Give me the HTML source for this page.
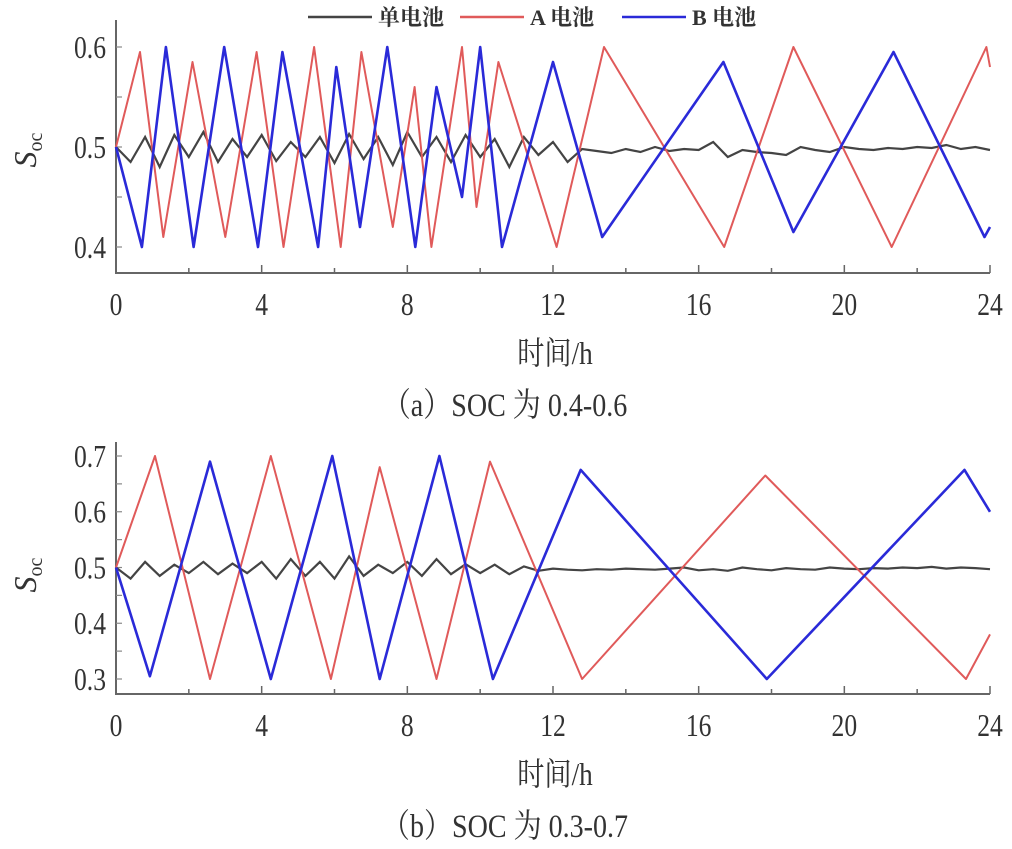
<!DOCTYPE html>
<html><head><meta charset="utf-8"><style>
html,body{margin:0;padding:0;background:#fff;}
svg{display:block;}
text{font-family:"Liberation Serif","Noto Serif CJK SC",serif;fill:#333;}
</style></head><body>
<svg id="chart" width="1012" height="849" viewBox="0 0 1012 849" xmlns="http://www.w3.org/2000/svg"></svg>
<script>
// ---- data ----
const xTicks = [0, 4, 8, 12, 16, 20, 24];
const ticksA = [0.4, 0.5, 0.6];
const ticksB = [0.3, 0.4, 0.5, 0.6, 0.7];
const seriesNames = ["单电池", "A 电池", "B 电池"];
// panel (a)
const aA_t = [0,0.66,1.3,2.1,3.0,3.86,4.6,5.44,6.17,6.74,7.6,8.2,8.66,9.5,9.9,10.5,12.1,13.4,16.7,18.6,21.3,23.9,24];
const aA_v = [0.5,0.595,0.41,0.585,0.41,0.595,0.40,0.6,0.40,0.595,0.42,0.56,0.40,0.6,0.44,0.585,0.40,0.6,0.40,0.6,0.40,0.6,0.58];
const aB_t = [0,0.71,1.37,2.13,2.97,3.9,4.57,5.55,6.05,6.7,7.45,8.22,8.8,9.5,10.0,10.6,12.0,13.35,16.68,18.6,21.35,23.85,24];
const aB_v = [0.5,0.40,0.6,0.40,0.6,0.40,0.595,0.40,0.58,0.42,0.6,0.40,0.56,0.45,0.6,0.40,0.585,0.41,0.585,0.415,0.595,0.41,0.42];
const aS_v = [0.50,0.485,0.51,0.48,0.512,0.49,0.515,0.485,0.508,0.49,0.512,0.486,0.505,0.49,0.51,0.484,0.513,0.488,0.51,0.482,0.515,0.49,0.51,0.485,0.512,0.49,0.508,0.48,0.51,0.492,0.505,0.485,0.498,0.496,0.494,0.498,0.495,0.5,0.496,0.498,0.497,0.505,0.49,0.497,0.495,0.494,0.492,0.5,0.497,0.495,0.5,0.498,0.497,0.499,0.498,0.5,0.499,0.502,0.498,0.5,0.497];
// panel (b)
const bA_t = [0,1.07,2.58,4.25,5.9,7.24,8.8,10.27,12.8,17.83,23.34,24];
const bA_v = [0.5,0.70,0.30,0.70,0.30,0.68,0.30,0.69,0.30,0.665,0.30,0.38];
const bB_t = [0,0.93,2.58,4.25,5.94,7.24,8.88,10.35,12.76,17.87,23.3,24];
const bB_v = [0.5,0.305,0.69,0.30,0.70,0.30,0.70,0.30,0.675,0.30,0.675,0.60];
const bS_v = [0.50,0.48,0.51,0.485,0.505,0.49,0.51,0.488,0.507,0.49,0.51,0.48,0.515,0.485,0.51,0.48,0.52,0.485,0.505,0.49,0.51,0.485,0.515,0.488,0.506,0.49,0.505,0.488,0.502,0.494,0.498,0.496,0.495,0.497,0.496,0.498,0.497,0.496,0.498,0.5,0.495,0.497,0.494,0.5,0.497,0.495,0.499,0.497,0.496,0.5,0.498,0.497,0.499,0.498,0.5,0.499,0.501,0.498,0.5,0.499,0.497];

const svg = document.getElementById('chart');
const NS = 'http://www.w3.org/2000/svg';
function mk(tag, attrs, parent){ const e=document.createElementNS(NS,tag); for(const k in attrs) e.setAttribute(k,attrs[k]); (parent||svg).appendChild(e); return e; }

function panel(cfg){
  const g = mk('g',{});
  
  
  const x0=116, x1=990;
  const sx = t => x0 + (t/24)*(x1-x0);
  const sy = v => cfg.yTop + (cfg.vTop - v)/(cfg.vTop-cfg.vBot)*(cfg.yBot-cfg.yTop);
  const ax = mk('path',{d:`M${x0} ${cfg.axTop} V${cfg.axY} H${x1}`,stroke:'#666','stroke-width':2,fill:'none'},g);
  
  
  for(let t=0;t<=24;t+=2){
    const tk = mk('line',{x1:sx(t),x2:sx(t),y1:cfg.axY,y2:cfg.axY-(t%4===0?8:5),stroke:'#666','stroke-width':1.5},g);
    
    
  }
  xTicks.forEach(t=>{
    const tx = mk('text',{x:sx(t),y:cfg.axY+42,'text-anchor':'middle','font-size':32},g);
    tx.setAttribute('transform', `translate(${sx(t)} 0) scale(0.8 1) translate(${-sx(t)} 0)`);
    tx.textContent = t;
    
    
  });
  const step=(cfg.vTop-cfg.vBot)/((cfg.yTicks.length-1)*2);
  for(let v=cfg.vBot; v<=cfg.vTop+1e-9; v+=step){
    const tk = mk('line',{x1:x0,x2:x0+6,y1:sy(v),y2:sy(v),stroke:'#888','stroke-width':1.2},g);
    
    
  }
  cfg.yTicks.forEach(v=>{
    const tx = mk('text',{x:106,y:sy(v)+11,'text-anchor':'end','font-size':32,transform:`translate(106 0) scale(0.8 1) translate(-106 0)`},g);
    tx.textContent = v.toFixed(1);
    
    
  });
  const yl = mk('text',{x:0,y:0,'font-size':32,'font-style':'italic',transform:`translate(36 ${cfg.ylabY}) rotate(-90)`,'text-anchor':'middle'},g);
  yl.innerHTML = 'S<tspan font-size="20" dy="6" font-style="normal">oc</tspan>';
  
  
  const n = cfg.sV.length;
  const sPts = cfg.sV.map((v,i)=>`${sx(i*24/(n-1)).toFixed(1)},${sy(v).toFixed(1)}`).join(' ');
  const s1 = mk('polyline',{points:sPts,fill:'none',stroke:'#444','stroke-width':2.2},g);
  
  
  const pa = cfg.aT.map((t,i)=>`${sx(t).toFixed(1)},${sy(cfg.aV[i]).toFixed(1)}`).join(' ');
  const s2 = mk('polyline',{points:pa,fill:'none',stroke:'#e05a5a','stroke-width':2,'stroke-linejoin':'round'},g);
  
  
  const pb = cfg.bT.map((t,i)=>`${sx(t).toFixed(1)},${sy(cfg.bV[i]).toFixed(1)}`).join(' ');
  const s3 = mk('polyline',{points:pb,fill:'none',stroke:'#2a2ad8','stroke-width':2.6,'stroke-linejoin':'round'},g);
  
  
  const xt = mk('text',{x:555,y:cfg.axY+91,'text-anchor':'middle','font-size':32,transform:`translate(555 0) scale(0.85 1) translate(-555 0)`},g);
  xt.textContent='时间/h';
  
  
  const cp = mk('text',{x:505,y:cfg.axY+143,'text-anchor':'middle','font-size':33,transform:`translate(505 0) scale(0.85 1) translate(-505 0)`},g);
  cp.textContent=cfg.caption;
  
  
}

panel({name:'panel-a',yTop:47,yBot:247,vTop:0.6,vBot:0.4,axY:273,axTop:20,yTicks:ticksA,ylabY:150,
  aT:aA_t,aV:aA_v,bT:aB_t,bV:aB_v,sV:aS_v,caption:'（a）SOC 为 0.4-0.6'});
panel({name:'panel-b',yTop:456,yBot:679,vTop:0.7,vBot:0.3,axY:694,axTop:442,yTicks:ticksB,ylabY:575,
  aT:bA_t,aV:bA_v,bT:bB_t,bV:bB_v,sV:bS_v,caption:'（b）SOC 为 0.3-0.7'});

const lg = mk('g',{});


const legColors=['#444','#e05a5a','#2a2ad8'];
const legX=[308,460,622];
seriesNames.forEach((nm,i)=>{
  const ln = mk('line',{x1:legX[i],x2:legX[i]+64,y1:17,y2:17,stroke:legColors[i],'stroke-width':2.5},lg);
  
  
  const tx = mk('text',{x:legX[i]+70,y:25,'font-size':22,'font-weight':'bold'},lg);
  tx.textContent=nm;
  
  
});
</script>
</body></html>
